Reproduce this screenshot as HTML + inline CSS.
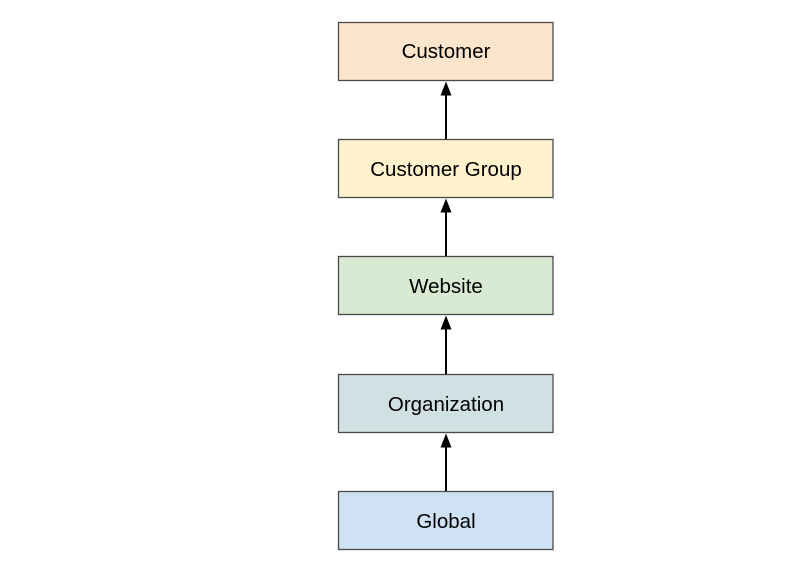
<!DOCTYPE html>
<html>
<head>
<meta charset="utf-8">
<style>
  html,body{margin:0;padding:0;background:#fff;}
  body{width:810px;height:564px;overflow:hidden;}
  svg{display:block;}
  text{font-family:"Liberation Sans",Arial,sans-serif;font-size:20.5px;fill:#000;}
</style>
</head>
<body>
<svg width="810" height="564" viewBox="0 0 810 564" xmlns="http://www.w3.org/2000/svg">
  <g stroke="#4a4a4a" stroke-width="1.3">
    <rect x="338.5" y="22.5" width="214.5" height="58" fill="#fce5cd"/>
    <rect x="338.5" y="139.5" width="214.5" height="58" fill="#fff2cc"/>
    <rect x="338.5" y="256.5" width="214.5" height="58" fill="#d9ead3"/>
    <rect x="338.5" y="374.5" width="214.5" height="58" fill="#d0e0e3"/>
    <rect x="338.5" y="491.5" width="214.5" height="58" fill="#cfe2f3"/>
  </g>
  <g text-anchor="middle">
    <text x="446" y="58">Customer</text>
    <text x="446" y="176">Customer Group</text>
    <text x="446" y="293">Website</text>
    <text x="446" y="411">Organization</text>
    <text x="446" y="528">Global</text>
  </g>
  <g stroke="#000" stroke-width="2">
    <line x1="446" y1="94" x2="446" y2="139"/>
    <line x1="446" y1="211" x2="446" y2="256"/>
    <line x1="446" y1="328" x2="446" y2="374"/>
    <line x1="446" y1="446" x2="446" y2="491"/>
  </g>
  <g fill="#000">
    <polygon points="446,81.5 440.5,95.5 451.5,95.5"/>
    <polygon points="446,198.5 440.5,212.5 451.5,212.5"/>
    <polygon points="446,315.5 440.5,329.5 451.5,329.5"/>
    <polygon points="446,433.5 440.5,447.5 451.5,447.5"/>
  </g>
</svg>
</body>
</html>
